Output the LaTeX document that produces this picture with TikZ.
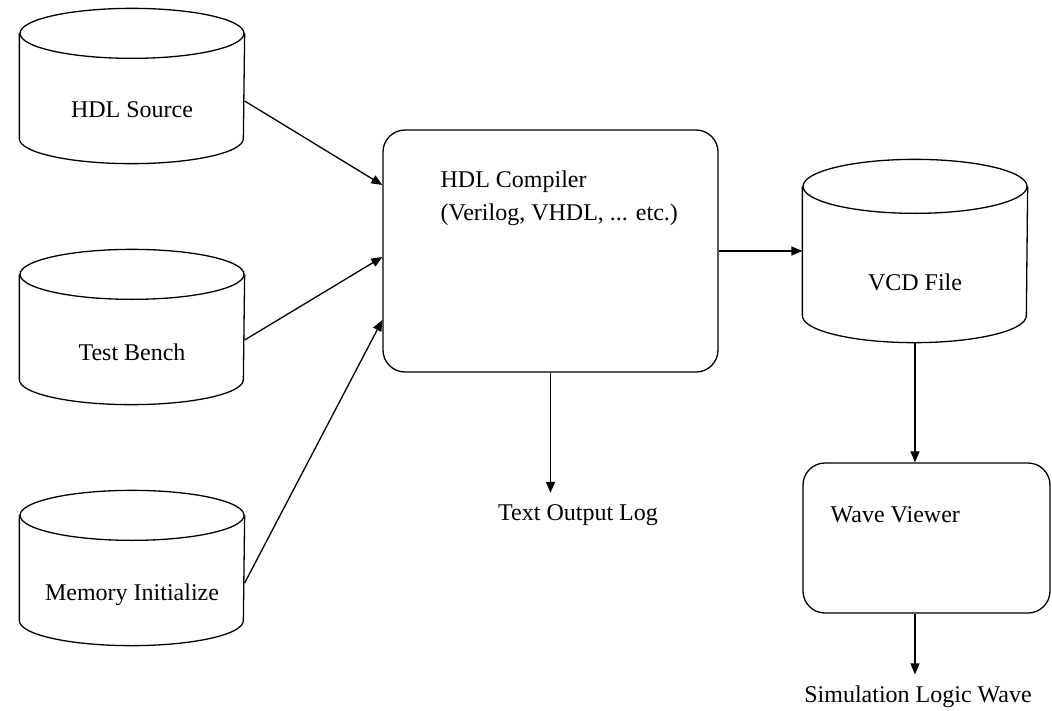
\documentclass[tikz,border=0pt]{standalone}
\usepackage{fontspec}
\setmainfont{Liberation Serif}
\usetikzlibrary{arrows.meta, positioning, shapes.geometric, calc}

% outline of a data file (drum) round a named node
\newcommand{\storeshape}[2]{%
  \draw ($(#1.north west)+(0,#2)$) -- ($(#1.south west)-(0,#2)$)
    arc[start angle=180, end angle=0, x radius=112, y radius=#2]
    -- ($(#1.north east)+(0,#2)$);
  \draw ($(#1.north)+(0,#2)$) ellipse[x radius=112, y radius=#2];
}

\begin{document}
\begin{tikzpicture}[x=1pt, y=-1pt,
    font=\fontsize{24}{33}\selectfont,
    line width=1.3pt,
    store/.style={minimum width=224pt, minimum height=154pt, inner sep=0pt},
    tool/.style={draw, rounded corners=22pt, inner sep=0pt},
    caption/.style={inner sep=0pt},
    outtext/.style={inner sep=11pt},
    flow/.style={-{Triangle[length=11pt, width=9pt]}}
]
\useasboundingbox (0,0) rectangle (1052,710);

% data files on the left
\node[store] (src) at (132,86) {};
\node[store] (tb) at (132,327) {};
\node[store] (mem) at (132,568) {};
\storeshape{src}{25}
\storeshape{tb}{25}
\storeshape{mem}{25}
\node[caption] (src-t) at (132,110) {HDL Source};
\node[caption] (tb-t) at (132,352) {Test Bench};
\node[caption] (mem-t) at (132,595) {Memory Initialize};

% compiler
\node[tool, minimum width=335pt, minimum height=242pt] (comp) at (550.5,251) {};
\node[caption, anchor=west, align=left] (comp-t) at (440,198)
    {HDL Compiler\\(Verilog, VHDL, ... etc.)};
\node[outtext] (log) at (578,515) {Text Output Log};

% dump file and viewer
\node[store, minimum height=182pt] (vcd) at (915,251) {};
\storeshape{vcd}{27}
\node[caption] (vcd-t) at (915,282) {VCD File};
\node[tool, minimum width=247pt, minimum height=150pt] (wave) at (926.5,538) {};
\node[caption, anchor=west] (wave-t) at (830,515) {Wave Viewer};
\node[outtext] (sim) at (918,697) {Simulation Logic Wave};

\draw[flow] ([yshift=-15pt]src.east) -- ([yshift=66pt]comp.west);
\draw[flow] ([yshift=-13pt]tb.east) -- ([yshift=-6pt]comp.west);
\draw[flow] ([yshift=-15pt]mem.east) -- ([yshift=-69pt]comp.west);
\draw[flow] (comp.east) -- (vcd.west);
\draw[flow] (comp.south) -- (log.north -| comp.south);
\draw[flow] (vcd.south) -- (vcd.south |- wave.north);
\draw[flow] (vcd.south |- wave.south) -- (vcd.south |- sim.north);
\end{tikzpicture}
\end{document}
